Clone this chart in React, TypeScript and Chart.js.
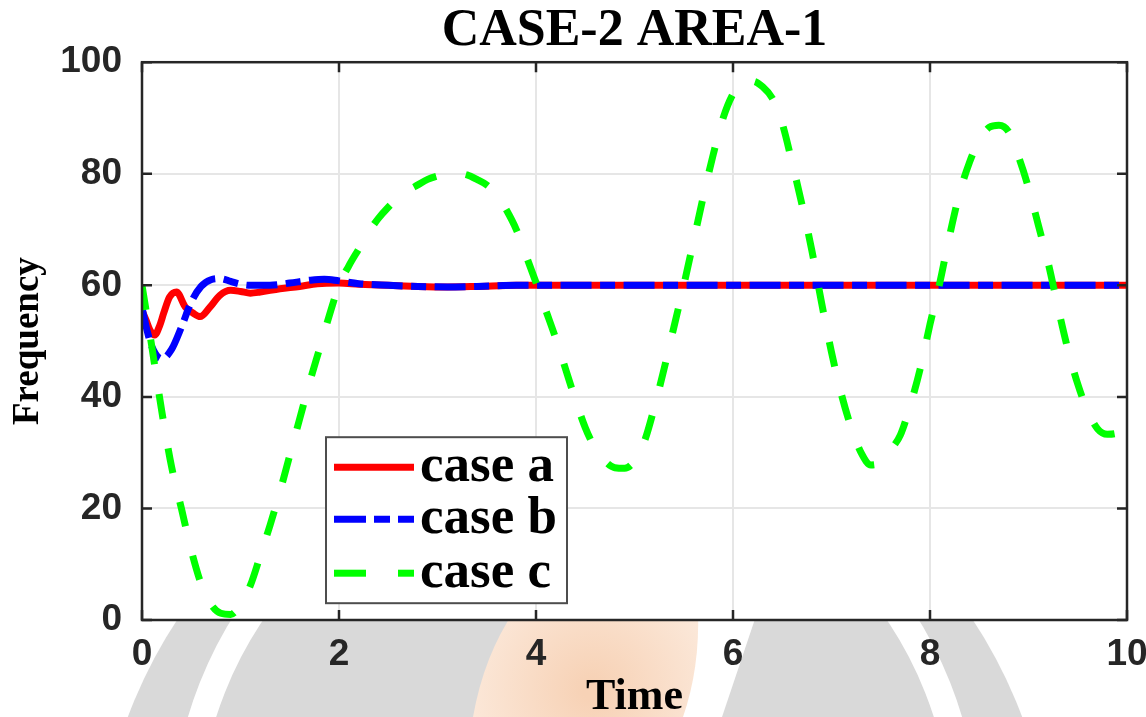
import React, { useEffect, useRef } from "react";
import { Chart, registerables } from "chart.js";

Chart.register(...registerables);

const TITLE = "CASE-2 AREA-1";
const X_LABEL = "Time";
const Y_LABEL = "Frequency";
const SERIES_NAMES = ["case a", "case b", "case c"];
const X_TICKS = [0, 2, 4, 6, 8, 10];
const Y_TICKS = [0, 20, 40, 60, 80, 100];

const caseATime = [0, 0.04, 0.08, 0.13, 0.18, 0.22, 0.28, 0.35, 0.44, 0.52, 0.59, 0.69, 0.79, 0.9, 1.0, 1.1, 1.2, 1.4, 1.6, 1.78, 2.0, 2.2, 2.5, 2.8, 3.1, 3.4, 3.8, 4.5, 6, 8, 10];
const caseAValue = [55.5, 53.8, 52, 51.1, 52.8, 55, 57.9, 58.8, 56.1, 55, 54.4, 56.1, 58.2, 59.1, 58.9, 58.6, 58.8, 59.4, 59.8, 60.3, 60.4, 60.2, 60, 59.8, 59.7, 59.8, 60, 60, 60, 60, 60];

const caseBTime = [0, 0.05, 0.1, 0.2, 0.3, 0.4, 0.5, 0.6, 0.7, 0.8, 0.9, 1.0, 1.1, 1.3, 1.5, 1.7, 1.85, 2.0, 2.2, 2.5, 2.8, 3.1, 3.4, 3.8, 4.5, 6, 8, 10];
const caseBValue = [56, 52, 49, 46.8, 48.5, 52.5, 57, 59.8, 61, 61.2, 60.7, 60.2, 60, 60, 60.4, 60.9, 61.1, 60.8, 60.3, 60, 59.8, 59.7, 59.8, 60, 60, 60, 60, 60];

const caseCTime = [
  0, 0.1, 0.2, 0.3, 0.4, 0.5, 0.6, 0.7, 0.8, 0.9,
  1.0, 1.1, 1.2, 1.3, 1.4, 1.5, 1.6, 1.7, 1.8, 1.9,
  2.0, 2.1, 2.2, 2.3, 2.4, 2.5, 2.6, 2.7, 2.8, 2.9,
  3.0, 3.1, 3.2, 3.3, 3.4, 3.5, 3.6, 3.7, 3.8, 3.9,
  4.0, 4.1, 4.2, 4.3, 4.4, 4.5, 4.6, 4.7, 4.8, 4.9,
  5.0, 5.1, 5.2, 5.3, 5.4, 5.5, 5.6, 5.7, 5.8, 5.9,
  6.0, 6.1, 6.2, 6.3, 6.4, 6.5, 6.6, 6.7, 6.8, 6.9,
  7.0, 7.1, 7.2, 7.3, 7.4, 7.5, 7.6, 7.7, 7.8, 7.9,
  8.0, 8.1, 8.2, 8.3, 8.4, 8.5, 8.6, 8.7, 8.8, 8.9,
  9.0, 9.1, 9.2, 9.3, 9.4, 9.5, 9.6, 9.7, 9.8, 9.9,
  10.0,
];
const caseCValue = [
  60, 49, 37.5, 27.5, 20, 12.5, 6.5, 2.8, 1.2, 1.0,
  2.8, 6.2, 11.5, 17, 23, 29.5, 36, 42.5, 48.5, 54.5,
  60, 63.5, 66.5, 69.5, 72, 74, 75.7, 77, 78, 79,
  79.6, 80, 80.1, 79.8, 79, 78, 76.3, 73.5, 70, 65.3,
  60.5, 55.5, 50.5, 45, 39.5, 34.5, 30.8, 28.5, 27.3, 27.2,
  28.5, 32, 38, 45, 52.5, 60, 68, 76, 83.5, 90,
  94.3, 96.5, 96.6, 95.6, 93.5, 89, 82, 74.5, 66.3, 56.8,
  48, 40.5, 34.5, 30, 27.8, 28.3, 30.5, 33.2, 38.5, 45,
  53, 60.5, 69, 76.5, 82, 86, 88.3, 88.7, 87.5, 83,
  77.5, 70.8, 64, 56, 48.5, 42.3, 37.5, 34.3, 33.3, 33.5,
  34.5,
];

const SERIF = '"Liberation Serif", "Times New Roman", serif';
const SANS = '"Liberation Sans", Arial, Helvetica, sans-serif';

const LEGEND_DASH = [[], [32, 8, 16, 8], [32, 32]];

const toPoints = (t: number[], v: number[]) => t.map((x, i) => ({ x, y: v[i] }));

const decorPlugin = {
  id: "decor",
  beforeDraw(chart: any) {
    const { ctx, chartArea: a, width, height } = chart;
    ctx.save();
    ctx.fillStyle = "#ffffff";
    ctx.fillRect(0, 0, width, height);
    // faint background emblem (watermark)
    ctx.fillStyle = "#d9d9d9";
    ctx.beginPath();
    ctx.arc(575, 883, 477, 0, Math.PI * 2);
    ctx.fill();
    ctx.strokeStyle = "#ffffff";
    ctx.lineWidth = 27;
    ctx.beginPath();
    ctx.arc(575, 831, 390, 0, Math.PI * 2);
    ctx.stroke();
    ctx.fillStyle = "#ffffff";
    ctx.beginPath();
    ctx.moveTo(690, 610);
    ctx.lineTo(758, 610);
    ctx.lineTo(722, 717);
    ctx.lineTo(680, 717);
    ctx.closePath();
    ctx.fill();
    const g = ctx.createRadialGradient(592, 690, 10, 592, 690, 140);
    g.addColorStop(0, "#f7d2b6");
    g.addColorStop(1, "#fcebde");
    ctx.fillStyle = g;
    ctx.beginPath();
    ctx.moveTo(515, 610);
    ctx.lineTo(698, 610);
    ctx.quadraticCurveTo(700, 668, 683, 717);
    ctx.lineTo(473, 717);
    ctx.quadraticCurveTo(484, 655, 515, 610);
    ctx.closePath();
    ctx.fill();
    // plot area background
    ctx.fillStyle = "#ffffff";
    ctx.fillRect(a.left, a.top, a.right - a.left, a.bottom - a.top);
    ctx.restore();
  },
  afterDraw(chart: any) {
    const { ctx, chartArea: a } = chart;
    const xs = chart.scales.x;
    const ys = chart.scales.y;
    ctx.save();
    // axes box
    ctx.strokeStyle = "#262626";
    ctx.lineWidth = 2.5;
    ctx.strokeRect(a.left, a.top, a.right - a.left, a.bottom - a.top);
    // inward ticks on all sides
    const tl = 10;
    ctx.beginPath();
    xs.ticks.forEach((t: any) => {
      const px = xs.getPixelForValue(t.value);
      ctx.moveTo(px, a.bottom);
      ctx.lineTo(px, a.bottom - tl);
      ctx.moveTo(px, a.top);
      ctx.lineTo(px, a.top + tl);
    });
    ys.ticks.forEach((t: any) => {
      const py = ys.getPixelForValue(t.value);
      ctx.moveTo(a.left, py);
      ctx.lineTo(a.left + tl, py);
      ctx.moveTo(a.right, py);
      ctx.lineTo(a.right - tl, py);
    });
    ctx.stroke();

    // legend box
    const lx = a.left + 184;
    const ly = a.top + 375;
    const lw = 241;
    const lh = 166;
    ctx.fillStyle = "#ffffff";
    ctx.fillRect(lx, ly, lw, lh);
    ctx.strokeStyle = "#4d4d4d";
    ctx.lineWidth = 2;
    ctx.strokeRect(lx, ly, lw, lh);
    const rowY = [30, 82, 136];
    chart.data.datasets.forEach((ds: any, i: number) => {
      const y = ly + rowY[i];
      ctx.strokeStyle = ds.borderColor;
      ctx.lineWidth = 7;
      ctx.lineCap = "butt";
      ctx.setLineDash(LEGEND_DASH[i]);
      ctx.beginPath();
      ctx.moveTo(lx + 8, y);
      ctx.lineTo(lx + 88, y);
      ctx.stroke();
      ctx.setLineDash([]);
      ctx.fillStyle = "#000000";
      ctx.font = `bold 53px ${SERIF}`;
      ctx.textAlign = "left";
      ctx.textBaseline = "middle";
      ctx.fillText(ds.label, lx + 94, y);
    });
    ctx.restore();
  },
};

export default function App() {
  const canvasRef = useRef<HTMLCanvasElement | null>(null);

  useEffect(() => {
    document.body.style.margin = "0";
    document.body.style.overflow = "hidden";
    const canvas = canvasRef.current;
    if (!canvas) return;
    const gridColor = "#e6e6e6";
    const chart = new Chart(canvas, {
      type: "line",
      data: {
        datasets: [
          {
            label: SERIES_NAMES[0],
            data: toPoints(caseATime, caseAValue),
            borderColor: "#ff0000",
            borderWidth: 7,
            pointRadius: 0,
            cubicInterpolationMode: "monotone",
            borderCapStyle: "butt",
            borderJoinStyle: "round",
            fill: false,
            order: 3,
          },
          {
            label: SERIES_NAMES[1],
            data: toPoints(caseBTime, caseBValue),
            borderColor: "#0000ff",
            borderWidth: 7,
            borderDash: [31, 8.5, 15, 8.5],
            pointRadius: 0,
            cubicInterpolationMode: "monotone",
            borderCapStyle: "butt",
            borderJoinStyle: "round",
            fill: false,
            order: 2,
          },
          {
            label: SERIES_NAMES[2],
            data: toPoints(caseCTime, caseCValue),
            borderColor: "#00ff00",
            borderWidth: 7,
            borderDash: [25, 30],
            pointRadius: 0,
            cubicInterpolationMode: "monotone",
            borderCapStyle: "butt",
            borderJoinStyle: "round",
            fill: false,
            order: 1,
          },
        ],
      },
      options: {
        responsive: false,
        animation: false,
        events: [],
        layout: { padding: { left: 0, right: 19, top: 0, bottom: 0 } },
        plugins: {
          legend: { display: false },
          tooltip: { enabled: false },
          title: {
            display: true,
            fullSize: false,
            text: TITLE,
            color: "#000000",
            font: { family: SERIF, size: 52, weight: "bold", lineHeight: 1.1 },
            padding: { top: 3, bottom: 2 },
          },
        },
        scales: {
          x: {
            type: "linear",
            min: 0,
            max: 10,
            afterBuildTicks: (s: any) => {
              s.ticks = X_TICKS.map((value) => ({ value }));
            },
            afterFit: (s: any) => {
              s.height = 97;
              s.paddingLeft = 0;
              s.paddingRight = 0;
            },
            grid: { color: gridColor, lineWidth: 2, drawTicks: false },
            border: { display: false },
            ticks: {
              color: "#262626",
              font: { family: SANS, size: 37, weight: "bold" },
              padding: 13,
              maxRotation: 0,
              autoSkip: false,
            },
            title: {
              display: true,
              text: X_LABEL,
              color: "#000000",
              font: { family: SERIF, size: 44, weight: "bold", lineHeight: 0.9 },
              padding: { top: 0, bottom: 0 },
            },
          },
          y: {
            type: "linear",
            min: 0,
            max: 100,
            afterBuildTicks: (s: any) => {
              s.ticks = Y_TICKS.map((value) => ({ value }));
            },
            afterFit: (s: any) => {
              s.width = 142;
              s.paddingTop = 0;
              s.paddingBottom = 0;
            },
            grid: { color: gridColor, lineWidth: 2, drawTicks: false },
            border: { display: false },
            ticks: {
              color: "#262626",
              font: { family: SANS, size: 37, weight: "bold" },
              padding: 20,
              autoSkip: false,
            },
            title: {
              display: true,
              text: Y_LABEL,
              color: "#000000",
              font: { family: SERIF, size: 37, weight: "bold", lineHeight: 1 },
              padding: { top: 10, bottom: 0 },
            },
          },
        },
      },
      plugins: [decorPlugin],
    } as any);
    return () => chart.destroy();
  }, []);

  return (
    <canvas
      ref={canvasRef}
      width={1146}
      height={717}
      style={{ display: "block", width: 1146, height: 717 }}
    />
  );
}
